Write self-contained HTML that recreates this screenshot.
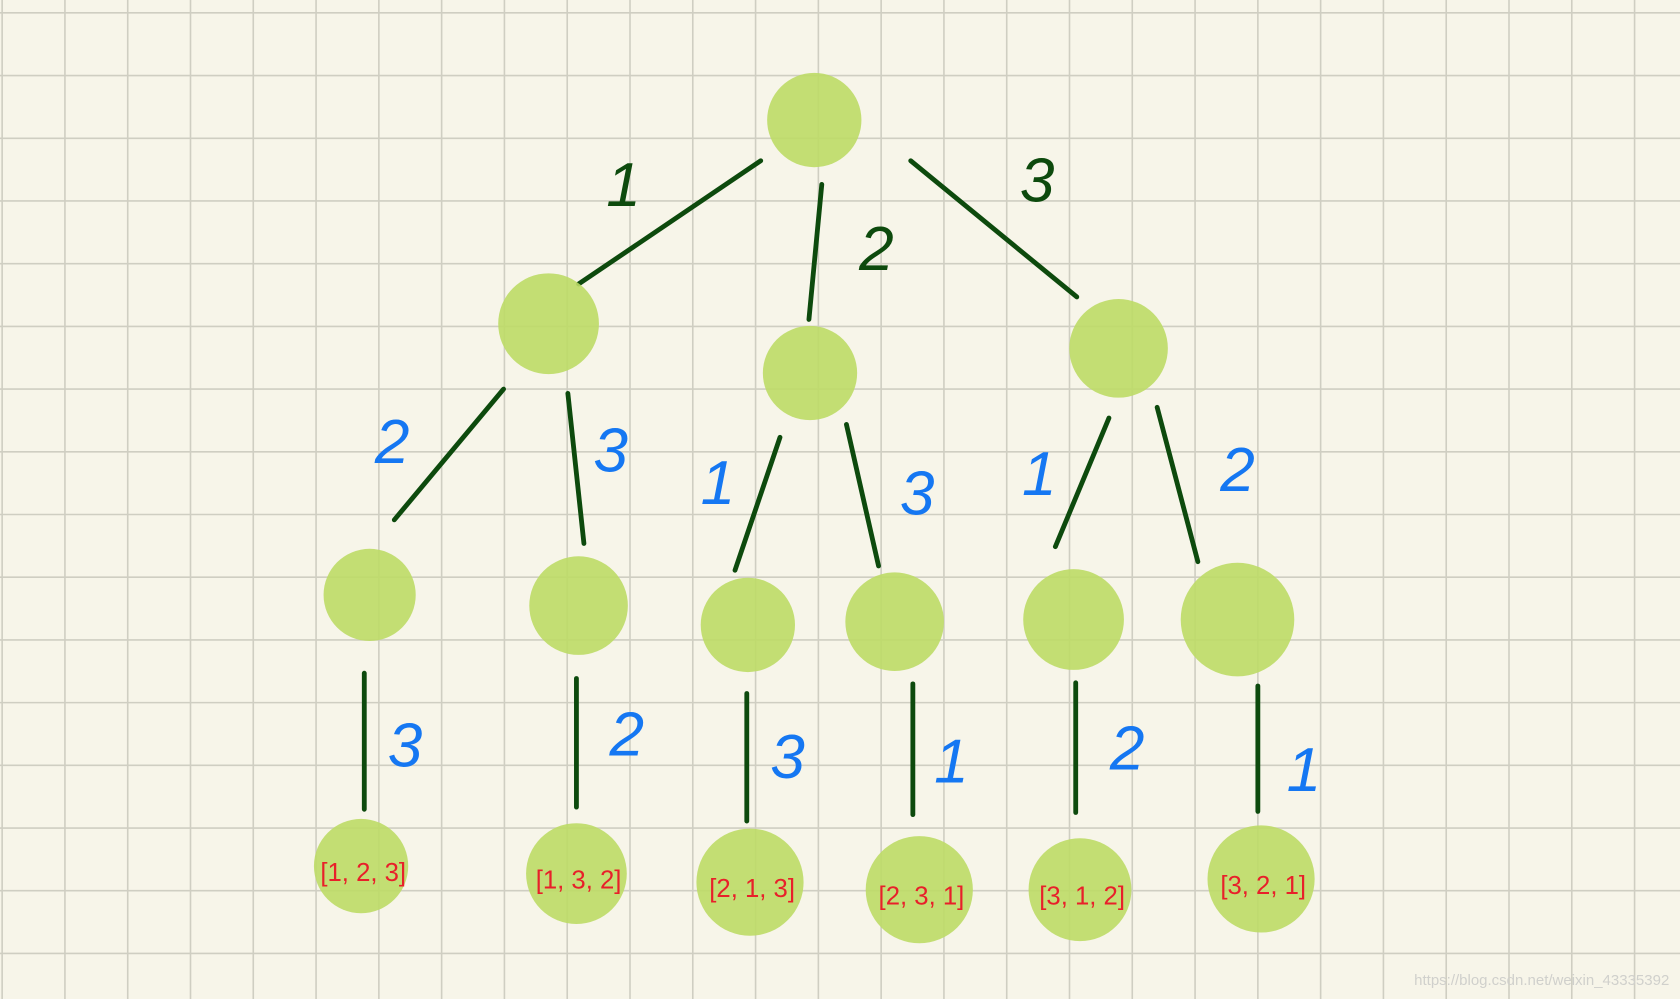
<!DOCTYPE html>
<html><head><meta charset="utf-8"><style>
html,body{margin:0;padding:0;background:#f7f5e9;}
svg{display:block}
</style></head><body>
<svg id="c" width="1680" height="999" viewBox="0 0 1568 932" preserveAspectRatio="none" xmlns="http://www.w3.org/2000/svg">
<rect width="1568" height="932" fill="#f7f5e9"/>
<g id="grid"></g>
<g id="edges"></g>
<g id="nodes"></g>
<g id="labels"></g>
<text x="1558" y="919" text-anchor="end" font-family="Liberation Sans, sans-serif" font-size="14" fill="#d0d0cc">https://blog.csdn.net/weixin_43335392</text>
</svg>
<script>
const NS="http://www.w3.org/2000/svg";
// node positions (x, y, r)
const nodeX=[760,512,756,1044,345,540,698,835,1002,1155,337,538,700,858,1008,1177];
const nodeY=[112,302,348,325,555,565,583,580,578,578,808,815,823,830,830,820];
const nodeR=[44,47,44,46,43,46,44,46,47,53,44,47,50,50,48,50];
const leafLabels=["[1, 2, 3]","[1, 3, 2]","[2, 1, 3]","[2, 3, 1]","[3, 1, 2]","[3, 2, 1]"];
// edges: x1,y1,x2,y2,label,labelX,labelY,color
const edges=[
[710,150,540,265,"1",582,192,"g"],[767,172,755,298,"2",818,252,"g"],[850,150,1005,277,"3",968,188,"g"],
[470,363,368,485,"2",366,432,"b"],[530,367,545,507,"3",570,440,"b"],
[728,408,686,532,"1",670,470,"b"],[790,396,820,528,"3",856,480,"b"],
[1035,390,985,510,"1",970,462,"b"],[1080,380,1118,524,"2",1155,458,"b"],
[340,628,340,755,"3",378,715,"b"],[538,633,538,753,"2",585,705,"b"],[697,647,697,766,"3",735,726,"b"],
[852,638,852,760,"1",888,730,"b"],[1004,637,1004,758,"2",1052,718,"b"],[1174,640,1174,757,"1",1217,738,"b"]
];
const grid=document.getElementById('grid');
for(let x=2;x<1568;x+=58.6){const l=document.createElementNS(NS,'line');l.setAttribute('x1',x);l.setAttribute('x2',x);l.setAttribute('y1',0);l.setAttribute('y2',932);l.setAttribute('stroke','#cfcec2');l.setAttribute('stroke-width','1.5');

grid.appendChild(l);}
for(let y=12;y<932;y+=58.5){const l=document.createElementNS(NS,'line');l.setAttribute('y1',y);l.setAttribute('y2',y);l.setAttribute('x1',0);l.setAttribute('x2',1568);l.setAttribute('stroke','#cfcec2');l.setAttribute('stroke-width','1.5');

grid.appendChild(l);}
const eg=document.getElementById('edges'),lg=document.getElementById('labels'),ng=document.getElementById('nodes');
edges.forEach(e=>{
 const l=document.createElementNS(NS,'line');
 l.setAttribute('x1',e[0]);l.setAttribute('y1',e[1]);l.setAttribute('x2',e[2]);l.setAttribute('y2',e[3]);
 l.setAttribute('stroke','#0d4a0d');l.setAttribute('stroke-width','4.5');l.setAttribute('stroke-linecap','round');
 
 
 eg.appendChild(l);
 const t=document.createElementNS(NS,'text');
 t.setAttribute('x',e[5]);t.setAttribute('y',e[6]);t.setAttribute('text-anchor','middle');
 t.setAttribute('font-family','Liberation Sans, sans-serif');t.setAttribute('font-size','58');t.setAttribute('font-style','italic');
 t.setAttribute('fill',e[7]=='g'?'#0d4a0d':'#1577f2');
 t.textContent=e[4];
 
 
 lg.appendChild(t);
});
nodeX.forEach((x,i)=>{
 const c=document.createElementNS(NS,'circle');
 c.setAttribute('cx',x);c.setAttribute('cy',nodeY[i]);c.setAttribute('r',nodeR[i]);
 c.setAttribute('fill','#bddb66');c.setAttribute('fill-opacity','0.9');
 
 
 ng.appendChild(c);
 if(i>=10){
  const t=document.createElementNS(NS,'text');
  t.setAttribute('x',x+2);t.setAttribute('y',nodeY[i]+14);t.setAttribute('text-anchor','middle');
  t.setAttribute('font-family','Liberation Sans, sans-serif');t.setAttribute('font-size','24');t.setAttribute('fill','#e8202a');
  t.textContent=leafLabels[i-10];
  
  
  lg.appendChild(t);
 }
});
</script>
</body></html>
